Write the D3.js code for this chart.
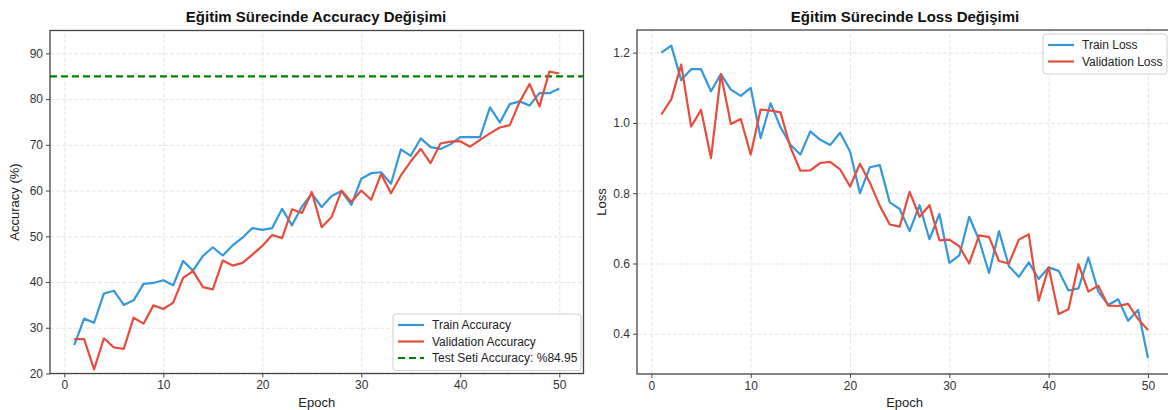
<!DOCTYPE html>
<html>
<head>
<meta charset="utf-8">
<script src="https://cdn.jsdelivr.net/npm/d3@7"></script>
<style>
  body { margin: 0; background: #fff; }
  svg { display: block; font-family: "Liberation Sans", Arial, sans-serif; }
  .tick text { fill: #333; font-size: 12px; }
  .grid line { stroke: #dedede; stroke-dasharray: 4,2; stroke-width: 0.8; }
  .grid .domain { display: none; }
</style>
</head>
<body>
<div class="chart"></div>
<script>
const epochs = d3.range(1, 51);

const trainAcc = [26.2, 32.0, 31.1, 37.5, 38.1, 35.0, 36.0, 39.6, 39.8, 40.4,
  39.3, 44.6, 42.5, 45.7, 47.6, 45.8, 48.0, 49.7, 51.8, 51.4,
  51.8, 56.0, 52.4, 56.5, 59.3, 56.4, 58.8, 59.9, 56.9, 62.6,
  63.8, 64.0, 61.5, 69.0, 67.6, 71.4, 69.5, 69.1, 70.1, 71.7,
  71.7, 71.7, 78.2, 74.9, 78.9, 79.5, 78.6, 81.3, 81.3, 82.3];
const valAcc = [27.5, 27.5, 20.9, 27.7, 25.7, 25.4, 32.2, 30.9, 34.9, 34.1,
  35.5, 40.9, 42.4, 38.9, 38.4, 44.7, 43.6, 44.2, 46.0, 47.9,
  50.3, 49.6, 55.9, 55.1, 59.7, 52.0, 54.2, 60.0, 57.5, 60.0,
  58.0, 63.6, 59.4, 63.3, 66.4, 69.1, 66.0, 70.3, 70.7, 70.8,
  69.6, 71.1, 72.5, 73.8, 74.3, 79.4, 83.3, 78.4, 86.0, 85.6];
const testAcc = 84.95;

const trainLoss = [1.200, 1.220, 1.122, 1.153, 1.153, 1.090, 1.139, 1.095, 1.077, 1.100,
  0.957, 1.056, 0.988, 0.938, 0.910, 0.976, 0.952, 0.937, 0.972, 0.919,
  0.800, 0.874, 0.880, 0.774, 0.755, 0.692, 0.766, 0.669, 0.741, 0.602,
  0.623, 0.733, 0.666, 0.573, 0.692, 0.592, 0.562, 0.603, 0.556, 0.589,
  0.579, 0.523, 0.529, 0.617, 0.520, 0.482, 0.498, 0.437, 0.468, 0.331];
const valLoss = [1.024, 1.067, 1.166, 0.990, 1.037, 0.900, 1.139, 0.997, 1.011, 0.910,
  1.038, 1.035, 1.030, 0.931, 0.864, 0.865, 0.886, 0.889, 0.868, 0.819,
  0.884, 0.830, 0.764, 0.711, 0.705, 0.804, 0.733, 0.766, 0.666, 0.668,
  0.649, 0.600, 0.680, 0.675, 0.607, 0.600, 0.668, 0.683, 0.494, 0.589,
  0.456, 0.470, 0.598, 0.520, 0.537, 0.480, 0.479, 0.485, 0.442, 0.411];

const xTicks = [0, 10, 20, 30, 40, 50];
const accTicks = [20, 30, 40, 50, 60, 70, 80, 90];
const lossTicks = [0.4, 0.6, 0.8, 1.0, 1.2];

const blue = '#3498db', red = '#e74c3c', green = '#008000';

const width = 1168, height = 410;
const svg = d3.select('.chart').append('svg')
  .attr('width', width)
  .attr('height', height);

function panel(opts) {
  const {x0, x1, y0, y1} = opts;
  const g = svg.append('g');
  const x = d3.scaleLinear().domain([-1.45, 52.45]).range([x0, x1]);
  const y = d3.scaleLinear().domain(opts.yDomain).range([y1, y0]);

  // grid
  g.append('g').attr('class', 'grid')
    .attr('transform', `translate(0,${y1})`)
    .call(d3.axisBottom(x).tickValues(xTicks).tickSize(-(y1 - y0)).tickFormat(''));
  g.append('g').attr('class', 'grid')
    .attr('transform', `translate(${x0},0)`)
    .call(d3.axisLeft(y).tickValues(opts.yTicks).tickSize(-(x1 - x0)).tickFormat(''));

  // reference line
  if (opts.hline != null) {
    g.append('line')
      .attr('x1', x0).attr('x2', x1)
      .attr('y1', y(opts.hline)).attr('y2', y(opts.hline))
      .attr('stroke', green).attr('stroke-width', 2.2)
      .attr('stroke-dasharray', '7,4');
  }

  const line = d3.line().x((d, i) => x(epochs[i])).y(d => y(d));
  opts.series.forEach(s => {
    g.append('path')
      .datum(s.values)
      .attr('fill', 'none')
      .attr('stroke', s.color)
      .attr('stroke-width', 2.2)
      .attr('stroke-linejoin', 'round')
      .attr('d', line);
  });

  // frame
  g.append('rect')
    .attr('x', x0).attr('y', y0)
    .attr('width', x1 - x0).attr('height', y1 - y0)
    .attr('fill', 'none').attr('stroke', '#444').attr('stroke-width', 1.3);

  const xa = g.append('g').attr('transform', `translate(0,${y1})`)
    .call(d3.axisBottom(x).tickValues(xTicks).tickSize(4).tickPadding(3).tickFormat(d3.format('d')));
  xa.select('.domain').remove();
  xa.selectAll('.tick line').attr('stroke', '#444');

  const ya = g.append('g').attr('transform', `translate(${x0},0)`)
    .call(d3.axisLeft(y).tickValues(opts.yTicks).tickSize(4).tickPadding(3).tickFormat(opts.yFormat));
  ya.select('.domain').remove();
  ya.selectAll('.tick line').attr('stroke', '#444');

  g.append('text')
    .attr('x', opts.titleX)
    .attr('y', 22)
    .attr('text-anchor', 'middle')
    .attr('font-size', 15).attr('font-weight', 'bold').attr('fill', '#111')
    .text(opts.title);

  g.append('text')
    .attr('x', (x0 + x1) / 2).attr('y', 407)
    .attr('text-anchor', 'middle')
    .attr('font-size', 13).attr('fill', '#222')
    .text('Epoch');

  g.append('text')
    .attr('transform', `translate(${opts.ylabelX},${(y0 + y1) / 2}) rotate(-90)`)
    .attr('text-anchor', 'middle')
    .attr('font-size', 13).attr('fill', '#222')
    .text(opts.ylabel);

  // legend
  const lg = g.append('g').attr('transform', `translate(${opts.legend.x},${opts.legend.y})`);
  lg.append('rect')
    .attr('width', opts.legend.w).attr('height', opts.legend.items.length * 16.5 + 7)
    .attr('rx', 3)
    .attr('fill', 'white').attr('fill-opacity', 0.85)
    .attr('stroke', '#d0d0d0');
  opts.legend.items.forEach((it, i) => {
    const cy = 11 + i * 16.5;
    lg.append('line')
      .attr('x1', 5).attr('x2', 31).attr('y1', cy).attr('y2', cy)
      .attr('stroke', it.color).attr('stroke-width', 2.2)
      .attr('stroke-dasharray', it.dash ? '7,4' : null);
    lg.append('text')
      .attr('x', 39).attr('y', cy).attr('dy', '0.35em')
      .attr('font-size', 12).attr('fill', '#222')
      .text(it.label);
  });
}

panel({
  x0: 50, x1: 583.5, y0: 30.5, y1: 373.5,
  yDomain: [20, 95], yTicks: accTicks, yFormat: d3.format('d'),
  title: 'Eğitim Sürecinde Accuracy Değişimi', titleX: 316,
  ylabel: 'Accuracy (%)', ylabelX: 19,
  hline: testAcc,
  series: [{values: trainAcc, color: blue}, {values: valAcc, color: red}],
  legend: {x: 393, y: 314, w: 188, items: [
    {label: 'Train Accuracy', color: blue},
    {label: 'Validation Accuracy', color: red},
    {label: 'Test Seti Accuracy: %' + testAcc.toFixed(2), color: green, dash: true}
  ]}
});

panel({
  x0: 637, x1: 1172.3, y0: 30, y1: 374,
  yDomain: [0.2855, 1.2645], yTicks: lossTicks, yFormat: d3.format('.1f'),
  title: 'Eğitim Sürecinde Loss Değişimi', titleX: 905,
  ylabel: 'Loss', ylabelX: 606,
  series: [{values: trainLoss, color: blue}, {values: valLoss, color: red}],
  legend: {x: 1043, y: 34, w: 124, items: [
    {label: 'Train Loss', color: blue},
    {label: 'Validation Loss', color: red}
  ]}
});
</script>
</body>
</html>
